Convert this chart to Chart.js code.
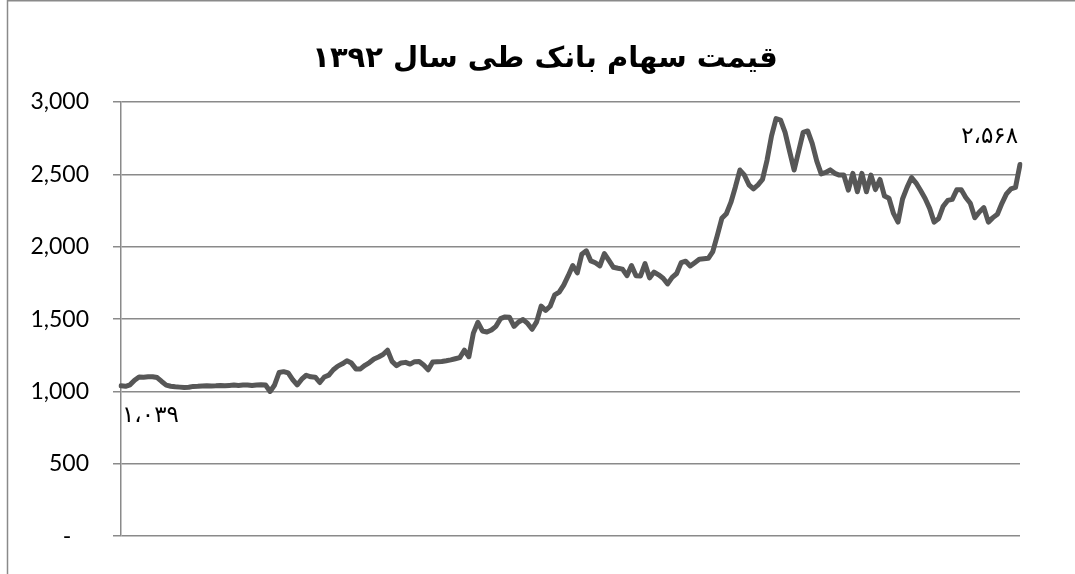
<!DOCTYPE html>
<html>
<head>
<meta charset="utf-8">
<script src="https://cdn.jsdelivr.net/npm/chart.js@4.4.1/dist/chart.umd.min.js"></script>
<style>
  html, body { margin: 0; padding: 0; background: #fff; }
  #wrap { width: 1075px; height: 574px; }
</style>
</head>
<body>
<div id="wrap"><canvas id="priceChart" width="1075" height="574"></canvas></div>
<script>
const chartTitle = "قیمت سهام بانک طی سال ۱۳۹۲";

// closing price, one value per trading day
const prices = [
  1039, 1036, 1046, 1078, 1100, 1099, 1102, 1102, 1096, 1069,
  1044, 1036, 1032, 1030, 1027, 1029, 1035, 1036, 1038, 1040,
  1038, 1039, 1041, 1040, 1042, 1044, 1042, 1044, 1045, 1041,
  1045, 1046, 1045, 1000, 1045, 1131, 1137, 1128, 1082, 1045,
  1085, 1112, 1101, 1099, 1062, 1100, 1113, 1150, 1175, 1191,
  1212, 1196, 1156, 1156, 1181, 1200, 1224, 1238, 1255, 1285,
  1208, 1178, 1197, 1201, 1189, 1206, 1207, 1183, 1150, 1203,
  1205, 1207, 1212, 1218, 1226, 1234, 1285, 1240, 1403, 1478,
  1418, 1411, 1425, 1450, 1503, 1515, 1512, 1450, 1480, 1497,
  1470, 1430, 1481, 1590, 1560, 1589, 1667, 1686, 1735, 1800,
  1870, 1820, 1948, 1972, 1902, 1889, 1868, 1952, 1905, 1858,
  1851, 1845, 1800, 1870, 1800, 1798, 1883, 1785, 1825, 1806,
  1782, 1743, 1788, 1815, 1890, 1900, 1867, 1890, 1914, 1917,
  1920, 1967, 2078, 2196, 2228, 2306, 2413, 2530, 2494, 2428,
  2400, 2427, 2465, 2597, 2766, 2885, 2875, 2790, 2659, 2530,
  2660, 2790, 2800, 2714, 2593, 2503, 2513, 2531, 2507, 2495,
  2495, 2391, 2507, 2380, 2507, 2380, 2495, 2395, 2465, 2350,
  2335, 2230, 2170, 2330, 2410, 2478, 2440, 2388, 2333, 2265,
  2170, 2195, 2280, 2320, 2327, 2393, 2393, 2340, 2300, 2200,
  2240, 2270, 2170, 2201, 2225, 2300, 2365, 2400, 2410, 2568
];
const days = prices.map((p, i) => String(i + 1));

const yTicks = [0, 500, 1000, 1500, 2000, 2500, 3000];

const faDigits = "۰۱۲۳۴۵۶۷۸۹";
function toFa(n) {
  return n.toLocaleString("en-US").replace(/\d/g, d => faDigits[d]).replace(/,/g, "،");
}

// white background, chart box frame and the title
const frame = {
  id: "frame",
  beforeDraw(chart) {
    const c = chart.ctx;
    c.save();
    c.fillStyle = "#fff";
    c.fillRect(0, 0, chart.width, chart.height);
    c.strokeStyle = "#8a8a8a";
    c.lineWidth = 1.5;
    c.beginPath();
    c.moveTo(7.5, chart.height);
    c.lineTo(7.5, 0.75);
    c.lineTo(chart.width, 0.75);
    c.stroke();

    c.fillStyle = "#000";
    c.font = "bold 29px 'DejaVu Sans'";
    c.textAlign = "center";
    c.textBaseline = "middle";
    c.fillText(chartTitle, 545, 59);
    c.restore();
  }
};

// first and last value written next to the line
const endLabels = {
  id: "endLabels",
  afterDatasetsDraw(chart) {
    const c = chart.ctx;
    const meta = chart.getDatasetMeta(0);
    const first = meta.data[0];
    const last = meta.data[meta.data.length - 1];
    c.save();
    c.fillStyle = "#000";
    c.font = "23px 'DejaVu Sans'";
    c.textBaseline = "middle";
    c.textAlign = "left";
    c.fillText(toFa(prices[0]), first.x + 1, first.y + 30);
    c.textAlign = "right";
    c.fillText(toFa(prices[prices.length - 1]), last.x - 2, last.y - 27);
    c.restore();
  }
};

const ctx = document.getElementById("priceChart").getContext("2d");
new Chart(ctx, {
  type: "line",
  data: {
    labels: days,
    datasets: [{
      data: prices,
      borderColor: "#575757",
      borderWidth: 5,
      pointRadius: 0,
      tension: 0,
      borderJoinStyle: "round",
      borderCapStyle: "round"
    }]
  },
  options: {
    responsive: false,
    animation: false,
    events: [],
    layout: { padding: { left: 0, right: 55, top: 102, bottom: 37 } },
    plugins: {
      legend: { display: false },
      tooltip: { enabled: false },
      title: { display: false }
    },
    scales: {
      x: { display: false, offset: false },
      y: {
        min: 0,
        max: 3000,
        afterFit(scale) { scale.width = 121; },
        afterBuildTicks(scale) { scale.ticks = yTicks.map(v => ({ value: v })); },
        border: { display: true, color: "#8a8a8a", width: 1.5 },
        grid: { color: "#8a8a8a", lineWidth: 1.5, tickLength: 8, drawTicks: true },
        ticks: {
          color: "#000",
          padding: 24,
          font: { family: "Lato", size: 23 },
          callback: v => v === 0 ? "-   " : v.toLocaleString("en-US")
        }
      }
    }
  },
  plugins: [frame, endLabels]
});
</script>
</body>
</html>
